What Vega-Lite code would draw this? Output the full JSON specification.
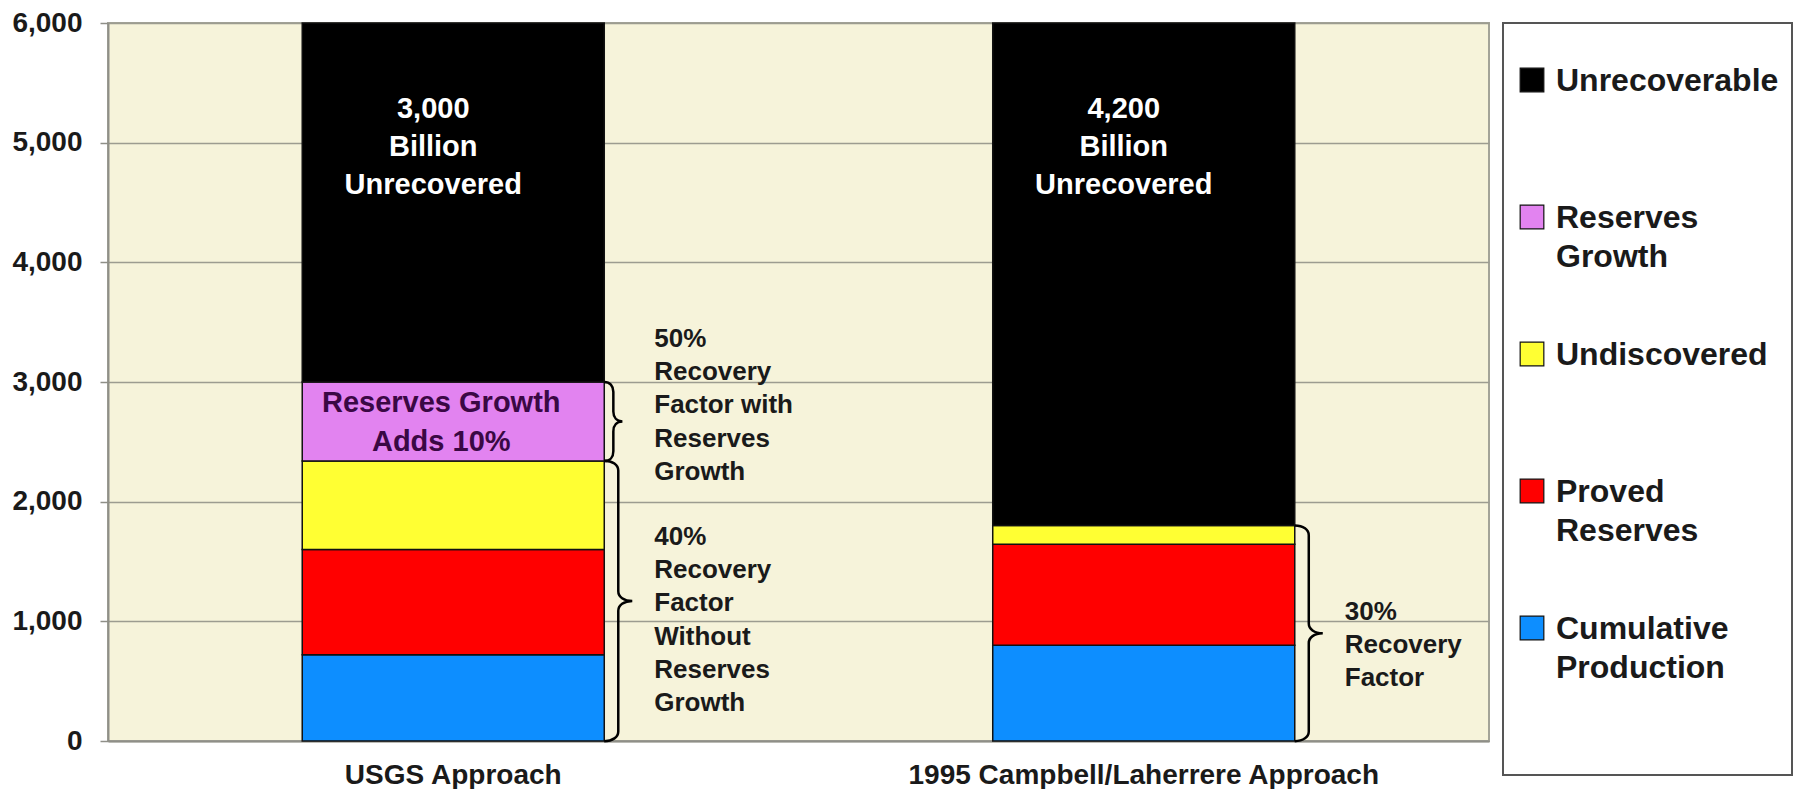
{
  "$schema": "https://vega.github.io/schema/vega-lite/v6.json",
  "width": 1381,
  "height": 718,
  "autosize": {"type": "none"},
  "padding": {"left": 108, "top": 23, "right": 304, "bottom": 48},
  "background": "white",
  "config": {
    "view": {"fill": "#F6F3DA", "stroke": "#A3A398", "strokeWidth": 2},
    "font": "Liberation Sans",
    "axisY": {
      "title": null,
      "tickCount": 6,
      "labelExpr": "format(datum.value, ',')",
      "labelFont": "Liberation Sans",
      "labelFontSize": 28,
      "labelFontWeight": "bold",
      "labelColor": "#1a1a1a",
      "tickColor": "#8f8f88",
      "tickSize": 8,
      "tickWidth": 1.5,
      "labelPadding": 18,
      "domainColor": "#8f8f88",
      "domainWidth": 2,
      "gridColor": "#9c9c90",
      "gridWidth": 1.5
    }
  },
  "datasets": {
    "bars": [
      {"approach": "USGS Approach", "category": "Cumulative Production", "tier": 1, "value": 720},
      {"approach": "USGS Approach", "category": "Proved Reserves", "tier": 2, "value": 880},
      {"approach": "USGS Approach", "category": "Undiscovered", "tier": 3, "value": 740},
      {"approach": "USGS Approach", "category": "Reserves Growth", "tier": 4, "value": 660},
      {"approach": "USGS Approach", "category": "Unrecoverable", "tier": 5, "value": 3000},
      {"approach": "1995 Campbell/Laherrere Approach", "category": "Cumulative Production", "tier": 1, "value": 800},
      {"approach": "1995 Campbell/Laherrere Approach", "category": "Proved Reserves", "tier": 2, "value": 845},
      {"approach": "1995 Campbell/Laherrere Approach", "category": "Undiscovered", "tier": 3, "value": 155},
      {"approach": "1995 Campbell/Laherrere Approach", "category": "Unrecoverable", "tier": 5, "value": 4200}
    ],
    "braces": [
      {"approach": "USGS Approach", "brace": "with growth", "mid": 2670, "span": 660},
      {"approach": "USGS Approach", "brace": "without growth", "mid": 1170, "span": 2340},
      {"approach": "1995 Campbell/Laherrere Approach", "brace": "campbell", "mid": 900, "span": 1800}
    ],
    "notes": [
      {"approach": "USGS Approach", "kind": "inside", "value": 5283, "text": "3,000|Billion|Unrecovered"},
      {"approach": "1995 Campbell/Laherrere Approach", "kind": "inside", "value": 5283, "text": "4,200|Billion|Unrecovered"},
      {"approach": "USGS Approach", "kind": "growth", "value": 2824, "text": "Reserves Growth|Adds 10%"},
      {"approach": "USGS Approach", "kind": "side", "value": 3362, "text": "50%|Recovery|Factor with|Reserves|Growth"},
      {"approach": "USGS Approach", "kind": "side", "value": 1707, "text": "40%|Recovery|Factor|Without|Reserves|Growth"},
      {"approach": "1995 Campbell/Laherrere Approach", "kind": "side", "value": 1080, "text": "30%|Recovery|Factor"}
    ]
  },
  "encoding": {
    "x": {
      "field": "approach",
      "type": "nominal",
      "sort": ["USGS Approach", "1995 Campbell/Laherrere Approach"],
      "scale": {"paddingInner": 0.5626, "paddingOuter": 0.2813},
      "axis": {
        "title": null,
        "labelAngle": 0,
        "labelFont": "Liberation Sans",
        "labelFontSize": 28,
        "labelFontWeight": "bold",
        "labelColor": "#1a1a1a",
        "labelLimit": 700,
        "ticks": false,
        "labelPadding": 20,
        "domainColor": "#8f8f88",
        "domainWidth": 2,
        "grid": false
      }
    }
  },
  "layer": [
    {
      "data": {"name": "bars"},
      "mark": {"type": "bar", "stroke": "#111111", "strokeWidth": 1.5},
      "encoding": {
        "y": {
          "field": "value",
          "type": "quantitative",
          "stack": "zero",
          "title": null,
          "scale": {"domain": [0, 6000], "nice": false}
        },
        "color": {
          "field": "category",
          "type": "nominal",
          "scale": {
            "domain": ["Unrecoverable", "Reserves Growth", "Undiscovered", "Proved Reserves", "Cumulative Production"],
            "range": ["#000000", "#E283F0", "#FFFF33", "#FF0000", "#0D8EFF"]
          },
          "legend": {
            "orient": "right",
            "offset": 14,
            "title": " ",
            "titleFontSize": 12,
            "titlePadding": 16,
            "padding": 13,
            "strokeColor": "#555555",
            "fillColor": "#ffffff",
            "symbolType": "square",
            "symbolSize": 560,
            "symbolStrokeColor": "#111111",
            "symbolStrokeWidth": 1.2,
            "symbolOpacity": 1,
            "labelFont": "Liberation Sans",
            "labelFontSize": 32,
            "labelFontWeight": "bold",
            "labelColor": "#1a1a1a",
            "labelOffset": 8,
            "labelLimit": 400,
            "rowPadding": 65,
            "labelBaseline": "alphabetic",
            "labelExpr": "datum.label === 'Reserves Growth' ? ['Reserves', 'Growth'] : datum.label === 'Proved Reserves' ? ['Proved', 'Reserves'] : datum.label === 'Cumulative Production' ? ['Cumulative', 'Production', '', ''] : [datum.label, '']",
            "encode": {
              "labels": {"update": {"dy": {"value": 11}, "lineHeight": {"value": 39}}},
              "legend": {"update": {"strokeWidth": {"value": 2}}}
            }
          }
        },
        "order": {"field": "tier", "type": "quantitative"}
      }
    },
    {
      "data": {"name": "braces"},
      "mark": {"type": "point", "filled": false, "stroke": "#000000", "strokeWidth": 2.5, "opacity": 1, "xOffset": 151},
      "encoding": {
        "y": {"field": "mid", "type": "quantitative", "title": null},
        "size": {
          "field": "span",
          "type": "quantitative",
          "scale": {"type": "pow", "exponent": 2, "domain": [0, 6000], "range": [0, 516961]},
          "legend": null
        },
        "shape": {
          "field": "brace",
          "type": "nominal",
          "scale": {
            "domain": ["with growth", "without growth", "campbell"],
            "range": [
              "M0,-1 C0.14,-1 0.23,-0.9 0.23,-0.75 L0.23,-0.25 C0.23,-0.1 0.32,0 0.46,0 C0.32,0 0.23,0.1 0.23,0.25 L0.23,0.75 C0.23,0.9 0.14,1 0,1",
              "M0,-1 C0.06,-1 0.1,-0.97 0.1,-0.93 L0.1,-0.07 C0.1,-0.03 0.14,0 0.2,0 C0.14,0 0.1,0.03 0.1,0.07 L0.1,0.93 C0.1,0.97 0.06,1 0,1",
              "M0,-1 C0.08,-1 0.13,-0.96 0.13,-0.91 L0.13,-0.09 C0.13,-0.04 0.18,0 0.26,0 C0.18,0 0.13,0.04 0.13,0.09 L0.13,0.91 C0.13,0.96 0.08,1 0,1"
            ]
          },
          "legend": null
        }
      }
    },
    {
      "data": {"name": "notes"},
      "transform": [{"filter": "datum.kind === 'inside'"}],
      "mark": {"type": "text", "lineBreak": "|", "font": "Liberation Sans", "fontSize": 29, "fontWeight": "bold", "lineHeight": 38, "color": "#ffffff", "align": "center", "baseline": "middle", "dx": -20},
      "encoding": {
        "y": {"field": "value", "type": "quantitative", "title": null},
        "text": {"field": "text", "type": "nominal"}
      }
    },
    {
      "data": {"name": "notes"},
      "transform": [{"filter": "datum.kind === 'growth'"}],
      "mark": {"type": "text", "lineBreak": "|", "font": "Liberation Sans", "fontSize": 29, "fontWeight": "bold", "lineHeight": 39, "color": "#3A0844", "align": "center", "baseline": "middle", "dx": -12},
      "encoding": {
        "y": {"field": "value", "type": "quantitative", "title": null},
        "text": {"field": "text", "type": "nominal"}
      }
    },
    {
      "data": {"name": "notes"},
      "transform": [{"filter": "datum.kind === 'side'"}],
      "mark": {"type": "text", "lineBreak": "|", "font": "Liberation Sans", "fontSize": 26, "fontWeight": "bold", "lineHeight": 33.3, "color": "#1a1a1a", "align": "left", "baseline": "middle", "dx": 201},
      "encoding": {
        "y": {"field": "value", "type": "quantitative", "title": null},
        "text": {"field": "text", "type": "nominal"}
      }
    }
  ]
}
